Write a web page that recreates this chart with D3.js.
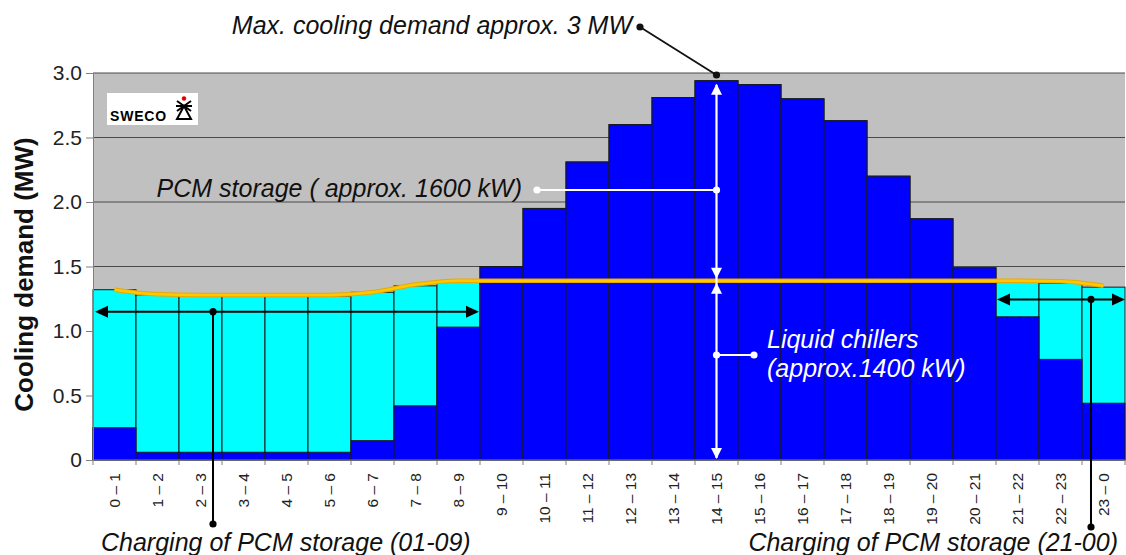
<!DOCTYPE html>
<html>
<head>
<meta charset="utf-8">
<script src="https://cdn.jsdelivr.net/npm/d3@7"></script>
<style>
  html, body { margin: 0; padding: 0; background: #fff; }
  svg { display: block; }
  text { font-family: "Liberation Sans", Arial, sans-serif; }
</style>
</head>
<body>
<svg id="chart" width="1126" height="555"></svg>
<script>
// ---- data ----
const hours = ["0 – 1","1 – 2","2 – 3","3 – 4","4 – 5","5 – 6","6 – 7","7 – 8","8 – 9","9 – 10",
  "10 – 11","11 – 12","12 – 13","13 – 14","14 – 15","15 – 16","16 – 17","17 – 18","18 – 19",
  "19 – 20","20 – 21","21 – 22","22 – 23","23 – 0"];
// total demand incl. PCM charging (top of bar, MW)
const totalDemand = [1.32,1.28,1.27,1.27,1.27,1.27,1.30,1.35,1.38,1.50,1.95,2.31,2.60,2.81,2.94,2.91,2.80,2.63,2.20,1.87,1.49,1.38,1.37,1.34];
// cooling delivered by building demand / chillers directly (blue part, MW)
const directDemand = [0.25,0.06,0.06,0.06,0.06,0.06,0.15,0.42,1.03,1.50,1.95,2.31,2.60,2.81,2.94,2.91,2.80,2.63,2.20,1.87,1.49,1.11,0.78,0.44];
// liquid chiller capacity line (MW)
const chillerLine = [1.32,1.285,1.28,1.28,1.28,1.28,1.30,1.36,1.39,1.39,1.39,1.39,1.39,1.39,1.39,1.39,1.39,1.39,1.39,1.39,1.39,1.39,1.385,1.35];
const yTicks = [0,0.5,1.0,1.5,2.0,2.5,3.0];

// ---- layout ----
const svg = d3.select("#chart");
const L = 93, R = 1125, T = 73, B = 460;
const x = d3.scaleBand().domain(hours).range([L, R]).padding(0);
const y = d3.scaleLinear().domain([0, 3]).range([B, T]);
const cx = h => x(h) + x.bandwidth() / 2;
const FONT = '"Liberation Sans", Arial, sans-serif';

// plot background
svg.append("rect").attr("x", L).attr("y", T).attr("width", R - L).attr("height", B - T).attr("fill", "#C0C0C0");

// gridlines
svg.append("g").selectAll("line").data(yTicks.filter(d => d > 0)).join("line")
  .attr("x1", L).attr("x2", R).attr("y1", d => y(d)).attr("y2", d => y(d))
  .attr("stroke", "#4a4a4a").attr("stroke-width", 1);

// bars: total (cyan) then direct (blue)
const bars = svg.append("g");
bars.selectAll("rect.tot").data(hours).join("rect").attr("class", "tot")
  .attr("x", h => x(h)).attr("width", x.bandwidth())
  .attr("y", (h, i) => y(totalDemand[i])).attr("height", (h, i) => B - y(totalDemand[i]))
  .attr("fill", "#00FFFF").attr("stroke", "#1a1a1a").attr("stroke-width", 1);
bars.selectAll("rect.dir").data(hours).join("rect").attr("class", "dir")
  .attr("x", h => x(h)).attr("width", x.bandwidth())
  .attr("y", (h, i) => y(directDemand[i])).attr("height", (h, i) => B - y(directDemand[i]))
  .attr("fill", "#0000FF").attr("stroke", "#1a1a1a").attr("stroke-width", 1);

// chiller line
const line = d3.line().x((d, i) => cx(hours[i])).y(d => y(d)).curve(d3.curveMonotoneX);
svg.append("path").datum(chillerLine).attr("d", line)
  .attr("fill", "none").attr("stroke", "#E8A800").attr("stroke-width", 4.5);
svg.append("path").datum(chillerLine).attr("d", line)
  .attr("fill", "none").attr("stroke", "#FFC800").attr("stroke-width", 2.5);

// axes
const yAxis = d3.axisLeft(y).tickValues(yTicks).tickSize(7).tickPadding(4)
  .tickFormat(d => d === 0 ? "0" : d3.format(".1f")(d));
const gy = svg.append("g").attr("transform", `translate(${L},0)`).call(yAxis);
gy.select(".domain").attr("stroke", "#808080");
gy.selectAll(".tick line").attr("stroke", "#808080");
gy.selectAll(".tick text").attr("font-family", FONT).attr("font-size", 21).attr("fill", "#222");

const gx = svg.append("g").attr("transform", `translate(0,${B})`);
gx.append("line").attr("x1", L).attr("x2", R).attr("stroke", "#808080");
gx.selectAll("line.tk").data(hours.concat([null])).join("line").attr("class", "tk")
  .attr("x1", (h, i) => L + i * x.bandwidth()).attr("x2", (h, i) => L + i * x.bandwidth())
  .attr("y1", 0).attr("y2", 5).attr("stroke", "#808080");
gx.selectAll("text").data(hours).join("text")
  .attr("transform", h => `translate(${cx(h)},13) rotate(-90)`)
  .attr("text-anchor", "end").attr("dy", "0.35em")
  .attr("font-family", FONT).attr("font-size", 15.5).attr("fill", "#222")
  .text(h => h);

// y title
svg.append("text").attr("transform", `translate(33,${(T + B) / 2 + 8}) rotate(-90)`)
  .attr("text-anchor", "middle").attr("font-family", FONT).attr("font-size", 26)
  .attr("font-weight", "bold").attr("fill", "#111").text("Cooling demand (MW)");

// logo
const logo = svg.append("g");
logo.append("rect").attr("x", 107).attr("y", 93).attr("width", 91).attr("height", 32).attr("fill", "#fff");
logo.append("text").attr("x", 110).attr("y", 121).attr("font-family", FONT).attr("font-size", 14)
  .attr("font-weight", "bold").attr("letter-spacing", 0.8).attr("fill", "#000").text("SWECO");
logo.append("path").attr("d", "M177,101 L191,111 M191,101 L177,111 M176,106 L192,106 M184,106 L177,119 L191,119 Z")
  .attr("fill", "none").attr("stroke", "#000").attr("stroke-width", 2);
logo.append("circle").attr("cx", 184).attr("cy", 98.5).attr("r", 2.2).attr("fill", "#e00000");

// ---- annotations ----
const ax = cx("14 – 15");
const ann = svg.append("g");
function dot(g, px, py, col) { g.append("circle").attr("cx", px).attr("cy", py).attr("r", 3.6).attr("fill", col); }

// max demand
ann.append("line").attr("x1", 640).attr("y1", 27).attr("x2", ax).attr("y2", y(3.0) + 2).attr("stroke", "#111").attr("stroke-width", 1.8);
dot(ann, 640, 27, "#111"); dot(ann, ax, y(3.0) + 2, "#111");
ann.append("text").attr("x", 632).attr("y", 34).attr("text-anchor", "end").attr("font-family", FONT)
  .attr("font-size", 25).attr("font-style", "italic").attr("fill", "#111").text("Max. cooling demand approx. 3 MW");

// white vertical double arrows
function arrowHead(g, px, py, dir, col) {
  // dir: -1 points up, +1 points down; tip at (px,py)
  g.append("path").attr("d", `M${px},${py} L${px - 5.5},${py - dir * 11} L${px + 5.5},${py - dir * 11} Z`).attr("fill", col);
}
const midY = y(1.39);
ann.append("line").attr("x1", ax).attr("x2", ax).attr("y1", y(2.94) + 4).attr("y2", B - 2).attr("stroke", "#fff").attr("stroke-width", 2.2);
arrowHead(ann, ax, y(2.94) + 3, -1, "#fff");
arrowHead(ann, ax, midY - 2, 1, "#fff");
arrowHead(ann, ax, midY + 2, -1, "#fff");
arrowHead(ann, ax, B - 1, 1, "#fff");

// PCM storage label
ann.append("line").attr("x1", 537).attr("x2", ax).attr("y1", 190).attr("y2", 190).attr("stroke", "#fff").attr("stroke-width", 2);
dot(ann, 537, 190, "#fff"); dot(ann, ax, 190, "#fff");
ann.append("text").attr("x", 522).attr("y", 197).attr("text-anchor", "end").attr("font-family", FONT)
  .attr("font-size", 25).attr("font-style", "italic").attr("fill", "#111").text("PCM storage ( approx. 1600 kW)");

// Liquid chillers label
ann.append("line").attr("x1", ax).attr("x2", 754).attr("y1", 355).attr("y2", 355).attr("stroke", "#fff").attr("stroke-width", 2);
dot(ann, ax, 355, "#fff"); dot(ann, 754, 355, "#fff");
const lc = ann.append("text").attr("font-family", FONT).attr("font-size", 25).attr("font-style", "italic").attr("fill", "#fff");
lc.append("tspan").attr("x", 767).attr("y", 348).text("Liquid chillers");
lc.append("tspan").attr("x", 767).attr("y", 377).text("(approx.1400 kW)");

// black horizontal double arrows (charging periods)
function hArrow(x1, x2, py) {
  ann.append("line").attr("x1", x1 + 8).attr("x2", x2 - 8).attr("y1", py).attr("y2", py).attr("stroke", "#000").attr("stroke-width", 2);
  ann.append("path").attr("d", `M${x1},${py} L${x1 + 13},${py - 6} L${x1 + 13},${py + 6} Z`).attr("fill", "#000");
  ann.append("path").attr("d", `M${x2},${py} L${x2 - 13},${py - 6} L${x2 - 13},${py + 6} Z`).attr("fill", "#000");
}
const leftY = y(1.15), rightY = y(1.245);
hArrow(x("0 – 1") + 2, x("9 – 10") - 1, leftY);
hArrow(x("21 – 22") + 1, R, rightY);
ann.append("line").attr("x1", 213).attr("x2", 213).attr("y1", leftY).attr("y2", 524).attr("stroke", "#000").attr("stroke-width", 2);
dot(ann, 213, leftY, "#000"); dot(ann, 213, 524, "#000");
ann.append("line").attr("x1", 1091).attr("x2", 1091).attr("y1", rightY).attr("y2", 527).attr("stroke", "#000").attr("stroke-width", 2);
dot(ann, 1091, rightY, "#000"); dot(ann, 1091, 527, "#000");
ann.append("text").attr("x", 101).attr("y", 551).attr("font-family", FONT).attr("font-size", 25)
  .attr("font-style", "italic").attr("fill", "#111").text("Charging of PCM storage (01-09)");
ann.append("text").attr("x", 1118).attr("y", 551).attr("text-anchor", "end").attr("font-family", FONT).attr("font-size", 25)
  .attr("font-style", "italic").attr("fill", "#111").text("Charging of PCM storage (21-00)");
</script>
</body>
</html>
